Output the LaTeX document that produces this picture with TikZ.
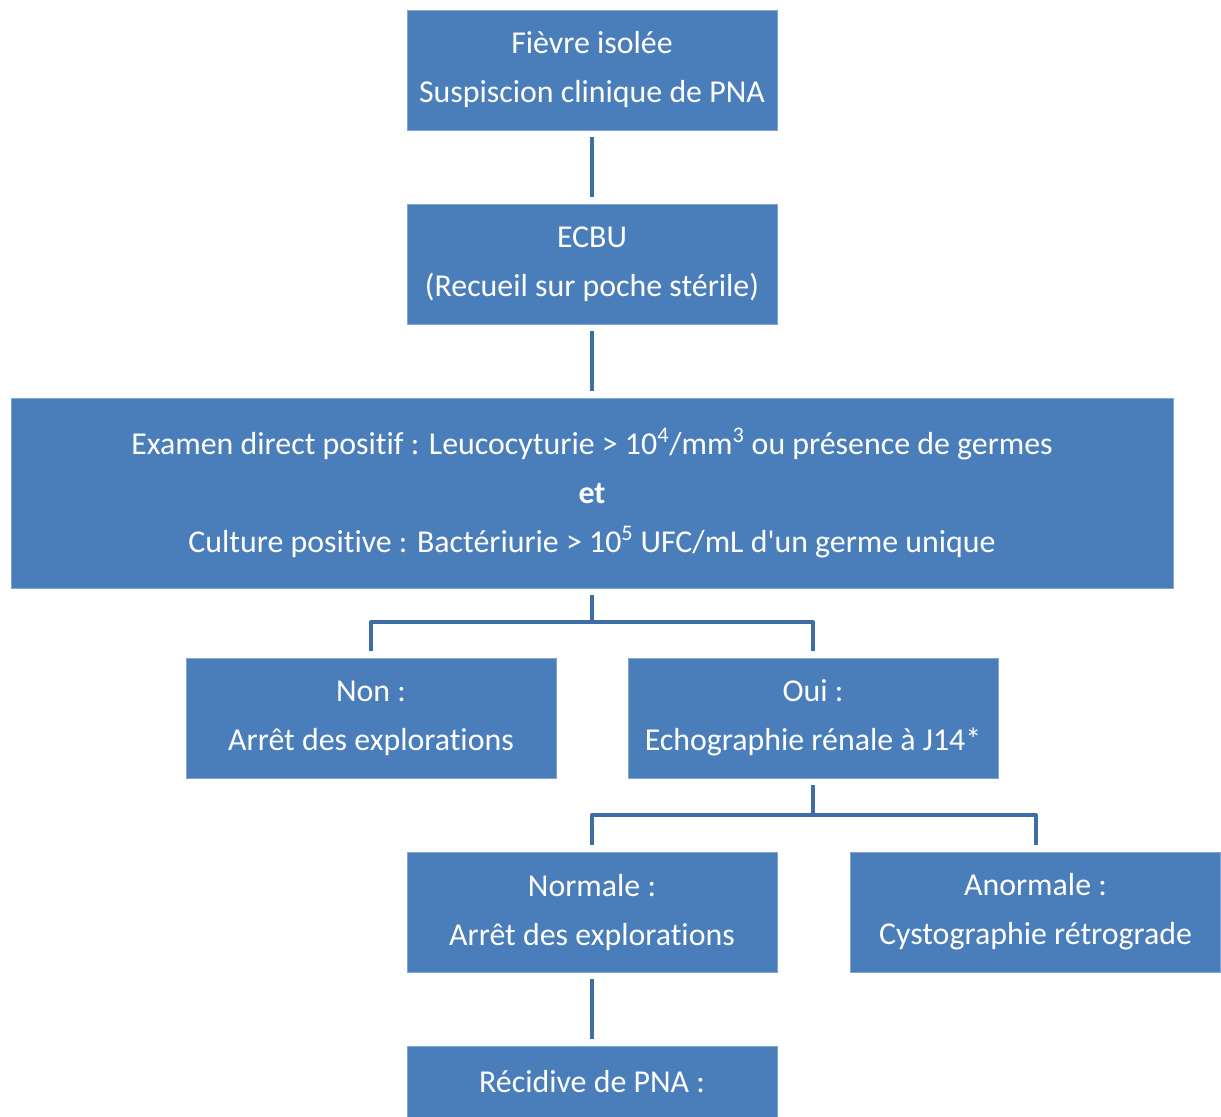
\documentclass[tikz,border=0pt]{standalone}
\usepackage{fontspec}
\setmainfont{Carlito}[Ligatures={TeXOff,NoCommon}]
\newcommand{\boxfont}{\fontsize{23.9}{36.75}\selectfont}

\tikzset{every picture/.style={line width=0.75pt}}
\tikzset{
	stepbox/.style={draw={rgb, 255:red, 130; green, 165; blue, 212}, fill={rgb, 255:red, 74; green, 126; blue, 187}, text=white, align=center, inner sep=0pt, minimum width=277.5pt, minimum height=90pt, font=\boxfont},
	link/.style={draw={rgb, 255:red, 62; green, 109; blue, 168}, line width=3pt, line join=round}
}

\begin{document}
\begin{tikzpicture}[x=0.75pt,y=0.75pt,yscale=-1,xscale=1]
	\useasboundingbox (0,0) rectangle (1221,1117);
	\clip (0,0) rectangle (1221,1117);

	% Boxes
	\node[stepbox] (fievre) at (592,70) {Fièvre isolée\\Suspiscion clinique de PNA};
	\node[stepbox] (ecbu) at (592,264) {ECBU\\(Recueil sur poche stérile)};
	\node[stepbox, minimum width=871.5pt, minimum height=142.5pt] (crit) at (592,493) {Examen direct positif : Leucocyturie > 10\textsuperscript{4}/mm\textsuperscript{3} ou présence de germes\\\textbf{et}\\Culture positive : Bactériurie > 10\textsuperscript{5} UFC/mL d'un germe unique};
	\node[stepbox] (non) at (371,718) {Non :\\Arrêt des explorations};
	\node[stepbox] (oui) at (813,718) {Oui :\\Echographie rénale à J14*};
	\node[stepbox] (normale) at (592,912) {Normale :\\Arrêt des explorations};
	\node[stepbox] (anormale) at (1035.5,912) {Anormale :\\Cystographie rétrograde};
	\node[stepbox] (recidive) at (592,1106) {Récidive de PNA :\\\mbox{}};

	% Split points
	\coordinate (s1) at (592,622);
	\coordinate (s2) at (813,815);

	% Connectors
	\draw[link, shorten <=5pt, shorten >=5pt] (fievre) -- (ecbu);
	\draw[link, shorten <=5pt, shorten >=5pt] (ecbu) -- (crit);
	\draw[link, shorten <=5pt] (crit.south) -- (s1);
	\draw[link, shorten <=5pt, shorten >=5pt] (non.north) |- (s1) -| (oui.north);
	\draw[link, shorten <=5pt] (oui.south) -- (s2);
	\draw[link, shorten <=5pt, shorten >=5pt] (normale.north) |- (s2) -| (anormale.north);
	\draw[link, shorten <=5pt, shorten >=5pt] (normale) -- (recidive);

\end{tikzpicture}
\end{document}
